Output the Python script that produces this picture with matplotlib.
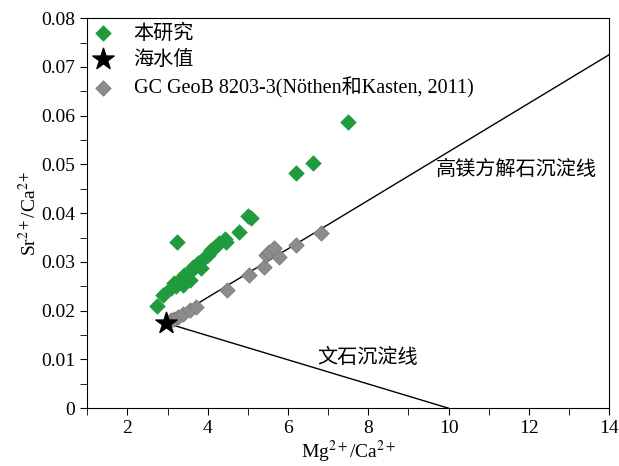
import matplotlib
matplotlib.use("Agg")
from matplotlib import pyplot as plt
from matplotlib.ticker import MultipleLocator

plt.rcParams['font.family'] = ['Liberation Serif', 'Noto Sans CJK SC']
plt.rcParams['mathtext.fontset'] = 'stix'

# 本研究
green_x = [2.73, 2.88, 3.23, 3.09, 3.17, 3.30, 3.22, 3.38, 3.42, 3.55, 3.55, 3.63, 3.75, 3.84,
           3.88, 4.0, 4.09, 4.17, 4.29, 4.42, 4.46, 4.79, 5.0, 5.08, 6.2, 6.62, 7.5]
green_y = [0.0209, 0.0232, 0.0340, 0.0246, 0.0256, 0.0263, 0.0250, 0.0252, 0.0273, 0.0280, 0.0263,
           0.0290, 0.0297, 0.0287, 0.0307, 0.0314, 0.0324, 0.0331, 0.0338, 0.0348, 0.0341,
           0.0362, 0.0394, 0.0391, 0.0483, 0.0502, 0.0587]

# GC GeoB 8203-3
gray_x = [3.09, 3.17, 3.26, 3.38, 3.55, 3.71, 4.47, 5.04, 5.41, 5.45, 5.53, 5.66, 5.78, 6.2, 6.82]
gray_y = [0.0180, 0.0184, 0.0187, 0.0194, 0.0201, 0.0208, 0.0242, 0.0273, 0.0290, 0.0314,
          0.0321, 0.0328, 0.0310, 0.0334, 0.0360]

# 海水值
sea_x = [2.95]
sea_y = [0.0175]

# lines from seawater point
hmc_x = [2.95, 14.0]
hmc_y = [0.0175, 0.0725]
arag_x = [2.95, 10.0]
arag_y = [0.0175, 0.0]

fig = plt.figure(figsize=(6.19, 4.66), dpi=100)
ax = fig.add_axes([0.141, 0.124, 0.843, 0.837])

ax.plot(hmc_x, hmc_y, color='black', lw=1.0, zorder=1)
ax.plot(arag_x, arag_y, color='black', lw=1.0, zorder=1)

ax.scatter(green_x, green_y, marker='D', s=62, color='#1f9a3c', edgecolors='#1f9a3c',
           linewidths=0.5, label='本研究', zorder=3)
ax.scatter(sea_x, sea_y, marker='*', s=260, color='black', label='海水值', zorder=5)
ax.scatter(gray_x, gray_y, marker='D', s=62, color='#8c8c8c', edgecolors='#7a7a7a',
           linewidths=0.5, label='GC GeoB 8203-3(Nöthen和Kasten, 2011)', zorder=4)

ax.text(9.68, 0.0488, '高镁方解石沉淀线', fontsize=14.5, va='center', ha='left')
ax.text(6.73, 0.0103, '文石沉淀线', fontsize=14.5, va='center', ha='left')

ax.set_xlim(1, 14)
ax.set_ylim(0, 0.08)
ax.xaxis.set_major_locator(MultipleLocator(2))
ax.xaxis.set_minor_locator(MultipleLocator(1))
ax.yaxis.set_minor_locator(MultipleLocator(0.005))
ax.set_yticks([0, 0.01, 0.02, 0.03, 0.04, 0.05, 0.06, 0.07, 0.08])
ax.set_yticklabels(['0', '0.01', '0.02', '0.03', '0.04', '0.05', '0.06', '0.07', '0.08'])
ax.tick_params(which='both', direction='out', length=5, labelsize=14, top=False, right=False)

ax.set_xlabel(r'Mg$^{2+}$/Ca$^{2+}$', fontsize=14, labelpad=1)
ax.set_ylabel(r'Sr$^{2+}$/Ca$^{2+}$', fontsize=14, labelpad=1)

ax.legend(loc='upper left', frameon=False, fontsize=14.5, handlelength=1.0,
          handletextpad=1.0, borderaxespad=0.0, borderpad=0.3, labelspacing=0.35)

fig.savefig('out.png', dpi=100)
